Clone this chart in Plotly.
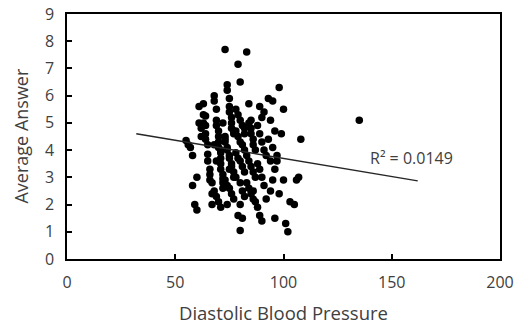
import plotly.graph_objects as go

# Scatter data (Diastolic Blood Pressure vs Average Answer)
dbp = [
    55, 56, 57, 58, 58, 59, 60, 60, 61, 61, 62, 62,
    63, 63, 64, 64, 64, 65, 65, 65, 66, 66, 66, 67, 67, 67, 63, 64,
    68, 68, 69, 69, 69, 70, 70, 70, 70, 71, 71, 71, 71, 72, 72, 72, 72, 68, 69, 70, 71, 72, 68, 69, 71,
    73, 74, 74, 75, 75, 75, 76, 76, 76, 77, 77, 73, 73, 74, 74, 75, 75, 76, 76, 77, 77, 73, 74, 75, 76, 77, 74, 73, 75,
    79, 80, 78, 79, 80, 81, 82, 78, 79, 80, 81, 82, 78, 79, 80, 81, 82, 78, 80, 81, 82, 80, 79, 81, 80, 82,
    83, 84, 84, 85, 85, 86, 86, 87, 83, 84, 85, 86, 87, 83, 84, 85, 86, 87, 86, 85,
    89, 90, 88, 89, 90, 91, 92, 88, 89, 90, 91, 92, 88, 89, 90, 91,
    93, 95, 94, 96, 93, 95, 97, 94, 96, 95, 94, 96,
    98, 100, 99, 97, 98, 101, 100, 102,
    108, 107, 106, 103, 105,
    135,
]
avg_answer = [
    4.35, 4.2, 4.1, 3.8, 2.7, 2.0, 1.8, 3.0, 5.6, 5.0, 4.8, 4.5,
    5.7, 5.3, 5.25, 4.6, 4.4, 4.2, 3.85, 3.6, 3.3, 3.1, 2.9, 2.8, 2.4, 2.0, 5.0, 4.9,
    6.0, 5.8, 5.5, 5.1, 4.9, 4.7, 4.5, 4.3, 4.1, 3.9, 3.7, 3.5, 3.3, 3.1, 2.95, 2.8, 2.6, 2.5, 2.3, 2.1, 1.9, 5.0, 4.2, 3.6, 4.0,
    7.7, 6.4, 6.2, 5.9, 5.6, 5.4, 5.2, 5.0, 4.8, 4.7, 4.6, 4.4, 4.3, 4.1, 4.0, 3.8, 3.7, 3.5, 3.4, 3.2, 3.0, 2.9, 2.7, 2.6, 2.4, 2.2, 2.0, 4.5, 3.3,
    7.15, 6.5, 5.5, 5.3, 5.1, 4.9, 4.8, 4.7, 4.5, 4.3, 4.2, 4.0, 3.9, 3.7, 3.6, 3.4, 3.2, 3.0, 2.8, 2.5, 2.3, 2.0, 1.6, 1.5, 1.05, 4.6,
    7.6, 5.7, 5.0, 4.8, 4.6, 4.4, 4.2, 4.0, 3.8, 3.6, 3.4, 3.2, 3.0, 2.8, 2.6, 2.4, 2.2, 2.1, 2.5, 5.1,
    5.6, 5.2, 4.9, 4.6, 4.3, 4.0, 3.8, 3.5, 3.3, 3.0, 2.7, 2.2, 1.9, 1.6, 1.4, 5.4,
    5.9, 5.8, 5.1, 4.7, 4.4, 4.1, 3.8, 3.6, 3.3, 2.9, 2.5, 1.5,
    6.3, 5.5, 4.6, 3.6, 2.4, 1.3, 2.9, 1.0,
    4.4, 3.0, 2.9, 2.1, 2.0,
    5.1,
]

# Linear trendline (as drawn, with forecast extension) and its label
trend_x = [32, 162]
trend_y = [4.6, 2.87]
r2_label = "R² = 0.0149"

x_ticks = [0, 50, 100, 150, 200]
y_ticks = list(range(0, 10))

FONT = "Open Sans"
TXT = "#404040"

fig = go.Figure()
fig.add_trace(go.Scatter(
    x=dbp, y=avg_answer, mode="markers",
    marker=dict(color="black", size=7.5, line=dict(width=0)),
    showlegend=False, hoverinfo="skip",
))
fig.add_trace(go.Scatter(
    x=trend_x, y=trend_y, mode="lines",
    line=dict(color="#262626", width=1.5),
    showlegend=False, hoverinfo="skip",
))
fig.add_annotation(
    x=159, y=3.72, text=r2_label, showarrow=False,
    xanchor="center", yanchor="middle",
    font=dict(family=FONT, size=16, color=TXT),
)
fig.add_annotation(
    xref="paper", yref="paper", x=-0.1085, y=0.5, textangle=-90,
    xanchor="center", yanchor="middle",
    text="Average Answer", showarrow=False,
    font=dict(family=FONT, size=18, color=TXT),
)
fig.add_annotation(
    xref="paper", yref="paper", x=0.5, y=-0.2204,
    xanchor="center", yanchor="middle",
    text="Diastolic Blood Pressure", showarrow=False,
    font=dict(family=FONT, size=18.5, color=TXT),
)

axis_common = dict(
    showgrid=False, zeroline=False, showline=True, linecolor="black", linewidth=1.5,
    mirror=True, ticks="inside", ticklen=5, tickwidth=1.5, tickcolor="black",
    tickfont=dict(family=FONT, size=16, color=TXT), automargin=False,
    ticklabelstandoff=8,
)
fig.update_xaxes(range=[0, 200], tickvals=x_ticks, **axis_common)
fig.update_yaxes(range=[0, 9], tickvals=y_ticks, **axis_common)
fig.update_layout(
    width=528, height=326,
    margin=dict(l=67, r=28, t=14, b=67),
    plot_bgcolor="white", paper_bgcolor="white",
    font=dict(family=FONT),
)
fig.write_html("out.html", config={"displayModeBar": False},
               post_script="document.body.style.margin='0';")
